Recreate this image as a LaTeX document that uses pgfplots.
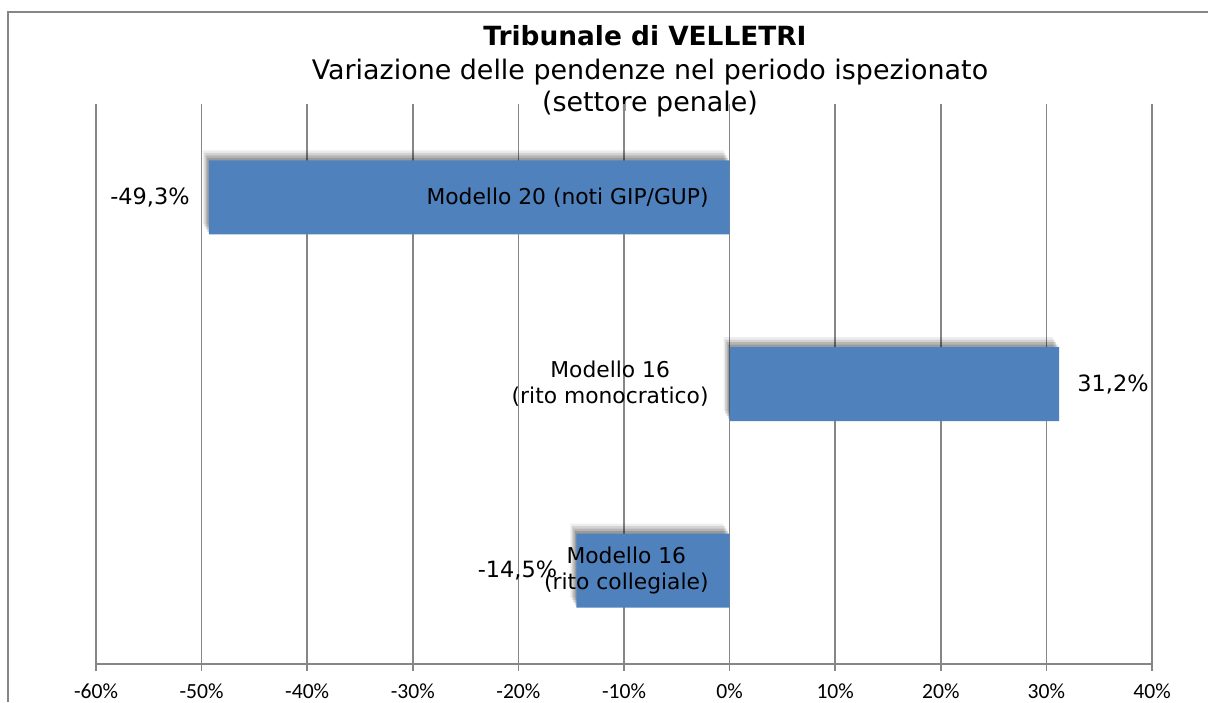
\documentclass[border=0pt]{standalone}
\usepackage{pgfplots}
\pgfplotsset{compat=1.18}
\usepackage{pgfplotstable}
\usepackage{fontspec}
\setmainfont{DejaVu Sans}
\newfontfamily\carlito{Carlito}
\definecolor{barblue}{HTML}{4F81BD}
\definecolor{gridgray}{HTML}{868686}
\pgfplotstableread[col sep=semicolon]{
y;x;zero;label;cat
3;-49.3;0;-49,3\%;Modello 20 (noti GIP/GUP)
2;31.2;0;31,2\%;Modello 16\\(rito monocratico)
1;-14.5;0;-14,5\%;Modello 16\\(rito collegiale)
}\datatable
\begin{document}
\begin{tikzpicture}
\useasboundingbox (0,0) rectangle (604pt,351pt);
\draw[gridgray, line width=0.75pt] (4pt,0pt) -- (4pt,345pt) -- (604pt,345pt);
\node[anchor=base, font=\bfseries\fontsize{13.2}{15}\selectfont] at (322.5pt,328pt) {Tribunale di VELLETRI};
\node[anchor=base, font=\fontsize{13.45}{15}\selectfont] at (325pt,311pt) {Variazione delle pendenze nel periodo ispezionato};
\node[anchor=base, font=\fontsize{13.45}{15}\selectfont] at (325pt,295pt) {(settore penale)};
\begin{axis}[
  at={(48pt,19pt)}, anchor=south west, scale only axis,
  width=528pt, height=280pt,
  xmin=-60, xmax=40, ymin=0.5, ymax=3.5,
  axis x line=bottom, axis y line=none,
  axis line style={-, draw=gridgray, line width=0.75pt},
  xtick={-60,-50,-40,-30,-20,-10,0,10,20,30,40},
  xticklabels={-60\%,-50\%,-40\%,-30\%,-20\%,-10\%,0\%,10\%,20\%,30\%,40\%},
  xticklabel style={font=\carlito\fontsize{10.8}{12}\selectfont, text=black, yshift=-3pt},
  xmajorgrids, grid style={gridgray, line width=0.75pt},
  tick align=outside, major tick length=3.5pt,
  x tick style={gridgray, line width=0.75pt},
  ytick=\empty,
]
\addplot[xbar, bar width=37pt, fill=black, fill opacity=0.15, draw=none, forget plot, xshift=-0.75pt, yshift=1.25pt] table[x=x,y=y]{\datatable};
\addplot[xbar, bar width=37pt, fill=black, fill opacity=0.14, draw=none, forget plot, xshift=-1.5pt, yshift=2.5pt] table[x=x,y=y]{\datatable};
\addplot[xbar, bar width=37pt, fill=black, fill opacity=0.11, draw=none, forget plot, xshift=-2.25pt, yshift=3.75pt] table[x=x,y=y]{\datatable};
\addplot[xbar, bar width=37pt, fill=black, fill opacity=0.07, draw=none, forget plot, xshift=-3pt, yshift=5pt] table[x=x,y=y]{\datatable};
\addplot[xbar, bar width=37pt, fill=barblue, draw=none] table[x=x,y=y]{\datatable};
% value labels: negative values to the left of the bar end, positive to the right
\addplot[draw=none, mark=none, forget plot, restrict x to domain=-100:0,
  nodes near coords, point meta=explicit symbolic,
  every node near coord/.append style={anchor=east, font=\fontsize{11.2}{13}\selectfont, text=black, inner xsep=0pt, xshift=-9.5pt}]
  table[x=x,y=y,meta=label]{\datatable};
\addplot[draw=none, mark=none, forget plot, restrict x to domain=0:100,
  nodes near coords, point meta=explicit symbolic,
  every node near coord/.append style={anchor=west, font=\fontsize{11.2}{13}\selectfont, text=black, inner xsep=0pt, xshift=9pt}]
  table[x=x,y=y,meta=label]{\datatable};
% category labels next to the zero line
\addplot[draw=none, mark=none, forget plot, nodes near coords, point meta=explicit symbolic,
  every node near coord/.append style={anchor=east, align=center, font=\fontsize{10.9}{13}\selectfont, text=black, xshift=-7pt}]
  table[x=zero,y=y,meta=cat]{\datatable};
\end{axis}
\end{tikzpicture}
\end{document}
